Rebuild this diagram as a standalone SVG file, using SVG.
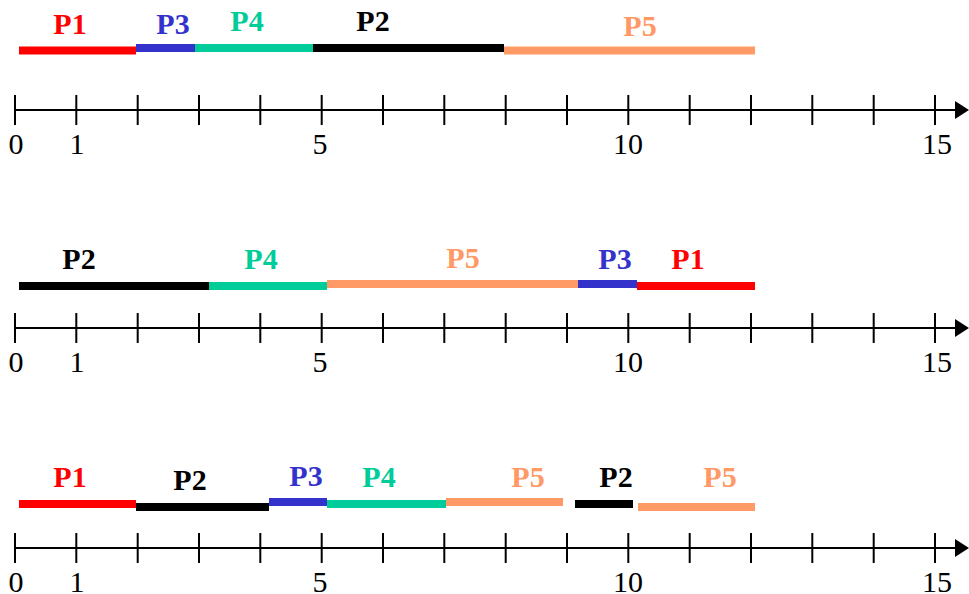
<svg xmlns="http://www.w3.org/2000/svg" width="969" height="594" viewBox="0 0 969 594">
<style>
.ax{stroke:#000;stroke-width:2;fill:none}
.num{font-family:"Liberation Serif","Times New Roman",serif;font-size:30px;fill:#000;text-anchor:middle}
.lbl{font-family:"Liberation Serif","Times New Roman",serif;font-size:30px;font-weight:bold;text-anchor:middle}
.bar{stroke-width:8;fill:none}
.red{stroke:#FF0000}.blue{stroke:#3333CC}.green{stroke:#00CC99}.black{stroke:#000}.orange{stroke:#FF9966}
.tred{fill:#FF0000}.tblue{fill:#3333CC}.tgreen{fill:#00CC99}.tblack{fill:#000}.torange{fill:#FF9966}
</style>
<defs>
<g id="axis">
<line class="ax" x1="15" y1="0" x2="957" y2="0"/>
<polygon points="955,-9 969,0 955,9" fill="#000"/>
<path class="ax" d="M15,-15V15M76.3,-15V15M137.7,-15V15M199,-15V15M260.3,-15V15M321.7,-15V15M383,-15V15M444.3,-15V15M505.7,-15V15M567,-15V15M628.3,-15V15M689.7,-15V15M751,-15V15M812.3,-15V15M873.7,-15V15M935,-15V15"/>
<text class="num" x="16" y="44">0</text>
<text class="num" x="77" y="44">1</text>
<text class="num" x="320" y="44">5</text>
<text class="num" x="628" y="44">10</text>
<text class="num" x="937" y="44">15</text>
</g>
</defs>
<g id="chart1">
<use href="#axis" transform="translate(0,110)"/>
<g id="c1-p1"><line class="bar red" x1="19" y1="50.5" x2="136" y2="50.5"/><text class="lbl tred" x="70" y="34">P1</text></g>
<g id="c1-p3"><line class="bar blue" x1="136" y1="48" x2="195" y2="48"/><text class="lbl tblue" x="173" y="34">P3</text></g>
<g id="c1-p4"><line class="bar green" x1="195" y1="48" x2="313" y2="48"/><text class="lbl tgreen" x="247" y="31">P4</text></g>
<g id="c1-p2"><line class="bar black" x1="313" y1="48" x2="504" y2="48"/><text class="lbl tblack" x="373" y="31">P2</text></g>
<g id="c1-p5"><line class="bar orange" x1="504" y1="50.5" x2="755" y2="50.5"/><text class="lbl torange" x="640" y="36">P5</text></g>
</g>
<g id="chart2">
<use href="#axis" transform="translate(0,328)"/>
<g id="c2-p2"><line class="bar black" x1="19" y1="286" x2="209" y2="286"/><text class="lbl tblack" x="79" y="269">P2</text></g>
<g id="c2-p4"><line class="bar green" x1="209" y1="286" x2="327" y2="286"/><text class="lbl tgreen" x="261" y="269">P4</text></g>
<g id="c2-p5"><line class="bar orange" x1="327" y1="284" x2="578" y2="284"/><text class="lbl torange" x="463" y="268">P5</text></g>
<g id="c2-p3"><line class="bar blue" x1="578" y1="284" x2="637" y2="284"/><text class="lbl tblue" x="615" y="269">P3</text></g>
<g id="c2-p1"><line class="bar red" x1="637" y1="286" x2="755" y2="286"/><text class="lbl tred" x="688" y="269">P1</text></g>
</g>
<g id="chart3">
<use href="#axis" transform="translate(0,548)"/>
<g id="c3-p1"><line class="bar red" x1="19" y1="504" x2="136" y2="504"/><text class="lbl tred" x="70" y="487">P1</text></g>
<g id="c3-p2a"><line class="bar black" x1="136" y1="507" x2="269" y2="507"/><text class="lbl tblack" x="190" y="490">P2</text></g>
<g id="c3-p3"><line class="bar blue" x1="269" y1="502" x2="327" y2="502"/><text class="lbl tblue" x="306" y="486">P3</text></g>
<g id="c3-p4"><line class="bar green" x1="327" y1="504" x2="446" y2="504"/><text class="lbl tgreen" x="379" y="487">P4</text></g>
<g id="c3-p5a"><line class="bar orange" x1="446" y1="502" x2="563" y2="502"/><text class="lbl torange" x="528" y="487">P5</text></g>
<g id="c3-p2b"><line class="bar black" x1="575" y1="504" x2="633" y2="504"/><text class="lbl tblack" x="616" y="487">P2</text></g>
<g id="c3-p5b"><line class="bar orange" x1="638" y1="507" x2="755" y2="507"/><text class="lbl torange" x="720" y="487">P5</text></g>
</g>
</svg>
